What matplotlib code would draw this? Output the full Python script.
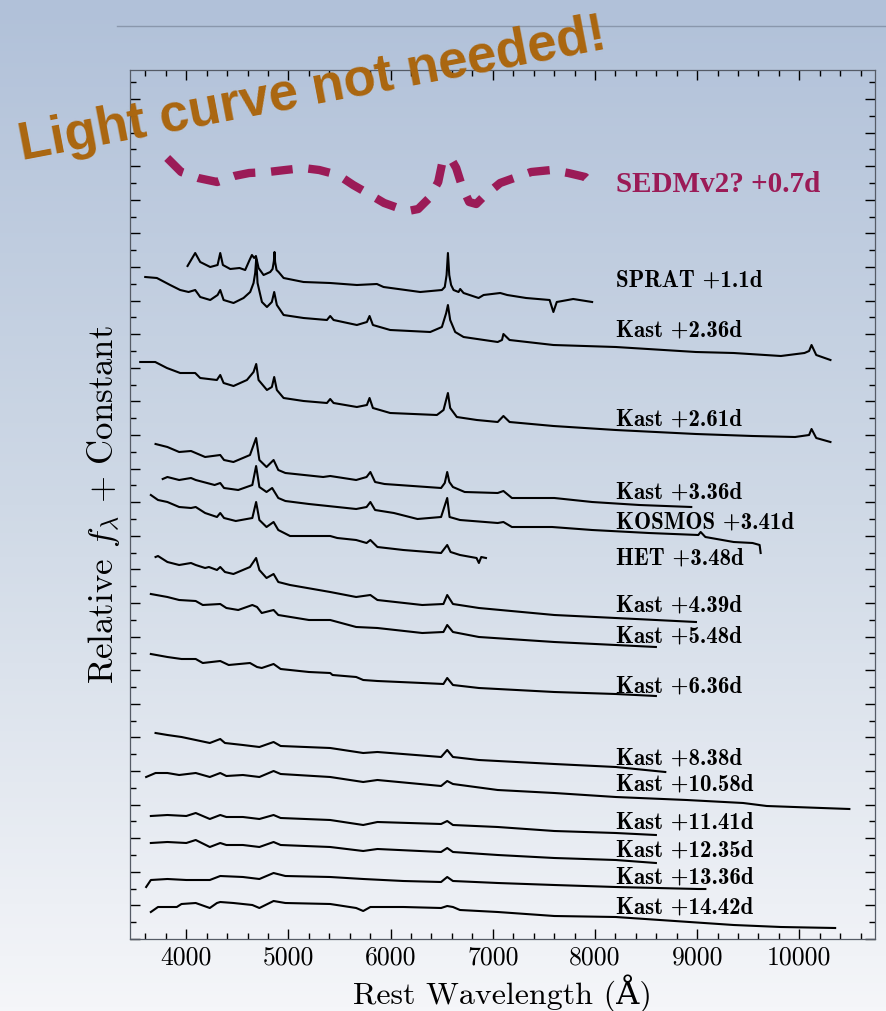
import numpy as np
import matplotlib
matplotlib.use("Agg")
import matplotlib.pyplot as plt
from matplotlib.ticker import MultipleLocator, NullFormatter
from matplotlib.colors import LinearSegmentedColormap
from matplotlib.lines import Line2D

plt.rcParams['font.family'] = ['cmr10', 'DejaVu Serif']
plt.rcParams['mathtext.fontset'] = 'cm'
plt.rcParams['axes.unicode_minus'] = False

# Spectra: rest wavelength (A) and relative flux + constant (arbitrary units)
sedm_wave = [3814, 3951, 4117, 4303, 4470, 4616, 4802, 4969, 5145, 5301, 5487, 5634,
             5771, 5937, 6074, 6172, 6270, 6378, 6466, 6505, 6544, 6603, 6642, 6701,
             6769, 6838, 6906, 7072, 7209, 7376, 7572, 7738, 7904, 7983]
sedm_flux = [781, 767, 761, 757, 763, 766, 767, 769, 771, 769, 764, 754,
             746, 736, 731, 728, 730, 741, 757, 776, 781, 778, 771, 752,
             737, 735, 742, 756, 761, 767, 769, 766, 762, 754]

sprat_wave = [4013, 4088, 4137, 4235, 4307, 4333, 4359, 4431, 4522, 4577, 4620, 4643,
              4665, 4682, 4708, 4757, 4822, 4845, 4858, 4864, 4870, 4884, 4904, 4953,
              5148, 5409, 5670, 5866, 5931, 6290, 6502, 6530, 6548, 6561, 6574, 6592,
              6616, 6665, 6681, 6714, 6861, 6910, 7073, 7141, 7326, 7556, 7593, 7626,
              7787, 7972]
sprat_flux = [673, 686, 677, 672, 674, 686, 674, 670, 671, 669, 679, 684,
              681, 683, 671, 664, 667, 670, 678, 687, 677, 669, 667, 661,
              657, 656, 654, 655, 652, 647, 649, 652, 664, 686, 664, 654,
              649, 647, 650, 646, 641, 644, 646, 644, 641, 639, 627, 637,
              640, 637]

k236_wave = [3599, 3713, 3843, 3941, 4023, 4088, 4137, 4235, 4307, 4333, 4366, 4463,
             4561, 4626, 4659, 4675, 4685, 4698, 4741, 4790, 4838, 4861, 4887, 4953,
             5148, 5377, 5409, 5442, 5670, 5768, 5794, 5827, 5996, 6388, 6502, 6544,
             6561, 6583, 6632, 6714, 7048, 7090, 7104, 7164, 7593, 8203, 8988, 9357,
             9819, 10050, 10095, 10119, 10165, 10304]
k236_flux = [662, 661, 654, 649, 647, 649, 642, 639, 644, 649, 639, 636,
             641, 647, 656, 666, 680, 656, 637, 632, 637, 647, 634, 624,
             621, 619, 623, 619, 614, 617, 623, 614, 609, 607, 612, 626,
             634, 619, 607, 602, 597, 599, 605, 599, 594, 592, 587, 586,
             583, 586, 588, 594, 584, 579]

k261_wave = [3550, 3697, 3811, 3941, 4088, 4137, 4300, 4333, 4366, 4463, 4594, 4659,
             4685, 4708, 4790, 4838, 4861, 4887, 4953, 5148, 5377, 5409, 5442, 5670,
             5768, 5794, 5827, 5996, 6453, 6518, 6561, 6583, 6648, 6844, 7048, 7104,
             7164, 7593, 8203, 8988, 9542, 9958, 10095, 10119, 10165, 10304]
k261_flux = [577, 577, 571, 566, 566, 561, 559, 564, 556, 553, 559, 567,
             575, 559, 549, 552, 562, 549, 541, 538, 536, 540, 536, 532,
             534, 541, 531, 526, 524, 529, 546, 531, 522, 519, 517, 523,
             517, 513, 509, 505, 503, 502, 504, 510, 501, 497]

k336_wave = [3700, 3816, 3931, 4047, 4093, 4185, 4333, 4370, 4462, 4624, 4684, 4716,
             4786, 4855, 4901, 4970, 5340, 5409, 5663, 5765, 5802, 5848, 5940, 6494,
             6530, 6554, 6575, 6610, 6725, 7048, 7104, 7187, 7602, 7972, 8434, 8942]
k336_flux = [495, 492, 487, 488, 486, 482, 484, 479, 477, 484, 501, 479,
             472, 479, 469, 466, 462, 463, 459, 462, 467, 457, 455, 451,
             456, 467, 457, 452, 447, 446, 448, 441, 441, 437, 434, 432]

kosmos_wave = [3770, 3816, 3931, 4047, 4093, 4278, 4333, 4370, 4509, 4647, 4684, 4716,
               4786, 4841, 4901, 4970, 5201, 5386, 5663, 5765, 5802, 5848, 6032, 6263,
               6494, 6554, 6577, 6679, 7048, 7104, 7187, 7580, 7972, 8527, 9011, 9034,
               9080, 9357, 9542, 9611, 9621]
kosmos_flux = [460, 462, 459, 461, 459, 454, 456, 451, 449, 454, 473, 452,
               447, 451, 441, 438, 435, 433, 430, 432, 437, 429, 426, 420,
               422, 441, 422, 419, 416, 417, 412, 412, 409, 406, 404, 407,
               402, 397, 396, 394, 386]

het_wave = [3654, 3724, 3816, 3931, 4047, 4093, 4185, 4301, 4333, 4370, 4485, 4647,
            4684, 4716, 4786, 4855, 4901, 5016, 5409, 5478, 5663, 5765, 5802, 5871,
            6125, 6494, 6554, 6587, 6679, 6841, 6864, 6887, 6933]
het_flux = [444, 439, 437, 432, 431, 432, 426, 422, 426, 421, 418, 421,
            437, 419, 412, 417, 409, 403, 403, 401, 399, 396, 399, 392,
            389, 386, 394, 387, 384, 381, 376, 382, 381]

k439_wave = [3700, 3724, 3816, 3931, 4047, 4093, 4185, 4222, 4301, 4333, 4379, 4462,
             4624, 4684, 4716, 4786, 4855, 4901, 5016, 5409, 5663, 5802, 5871, 6310,
             6517, 6554, 6610, 6864, 7602, 8203, 8988]
k439_flux = [382, 383, 377, 374, 376, 374, 371, 372, 369, 372, 367, 365,
             372, 381, 369, 361, 365, 357, 354, 347, 342, 344, 339, 334,
             335, 344, 335, 331, 324, 321, 317]

k548_wave = [3654, 3816, 3931, 4093, 4162, 4333, 4393, 4509, 4647, 4693, 4739, 4855,
             4901, 5201, 5409, 5663, 5871, 6310, 6517, 6554, 6610, 6864, 7602, 8203,
             8596]
k548_flux = [345, 342, 339, 338, 334, 335, 331, 329, 334, 332, 326, 329,
             324, 319, 319, 312, 311, 306, 307, 314, 307, 302, 297, 294,
             292]

k636_wave = [3654, 3816, 3954, 4093, 4162, 4333, 4416, 4624, 4693, 4739, 4855, 4924,
             5201, 5409, 5432, 5663, 5732, 5871, 6310, 6517, 6554, 6610, 6864, 7602,
             8203, 8596]
k636_flux = [285, 282, 280, 280, 276, 278, 274, 276, 272, 271, 275, 270,
             267, 266, 264, 262, 259, 258, 256, 255, 261, 254, 251, 247,
             245, 243]

k838_wave = [3700, 3816, 3954, 4093, 4231, 4333, 4379, 4555, 4716, 4855, 4924, 5409,
             5732, 5871, 6494, 6554, 6610, 6864, 7602, 8203, 8688]
k838_flux = [206, 204, 202, 199, 196, 200, 196, 194, 192, 197, 193, 191,
             186, 187, 182, 189, 182, 179, 175, 172, 167]

k1058_wave = [3608, 3700, 3816, 3931, 4093, 4231, 4333, 4393, 4555, 4716, 4855, 4924,
              5409, 5732, 5871, 6494, 6554, 6610, 7048, 7602, 8203, 8896, 9450, 9681,
              10489]
k1058_flux = [162, 166, 166, 164, 166, 162, 166, 163, 164, 162, 168, 165,
              162, 157, 159, 153, 158, 155, 149, 146, 142, 139, 136, 133,
              130]

k1141_wave = [3654, 3816, 4001, 4093, 4231, 4333, 4393, 4555, 4716, 4855, 4924, 5409,
              5732, 5871, 6494, 6554, 6610, 7048, 7602, 8203, 8596]
k1141_flux = [123, 124, 123, 126, 120, 124, 122, 122, 120, 124, 121, 119,
              114, 117, 115, 118, 114, 112, 108, 106, 104]

k1235_wave = [3654, 3816, 4001, 4093, 4231, 4333, 4393, 4555, 4716, 4855, 4924, 5409,
              5732, 5871, 6494, 6554, 6610, 7048, 7602, 8203, 8596]
k1235_flux = [96, 97, 96, 99, 92, 96, 94, 94, 92, 97, 94, 92,
              88, 90, 87, 91, 87, 84, 81, 79, 76]

k1336_wave = [3608, 3654, 3816, 4001, 4231, 4333, 4555, 4716, 4855, 4970, 5409, 5732,
              6125, 6494, 6554, 6610, 7048, 7602, 8203, 9011, 9080]
k1336_flux = [52, 59, 60, 59, 59, 63, 62, 60, 66, 63, 62, 60,
              58, 57, 62, 58, 56, 54, 52, 50, 50]

k1442_wave = [3654, 3724, 3816, 3908, 3954, 4093, 4231, 4301, 4333, 4462, 4647, 4716,
              4855, 4970, 5409, 5663, 5732, 5802, 6125, 6494, 6554, 6610, 6679, 7048,
              7602, 8203, 9357, 9819, 10350]
k1442_flux = [27, 32, 32, 32, 35, 36, 31, 36, 37, 36, 34, 31,
              38, 36, 35, 31, 28, 32, 32, 31, 33, 32, 29, 27,
              23, 22, 14, 12, 11]

spec_labels = ['SPRAT +1.1d', 'Kast +2.36d', 'Kast +2.61d', 'Kast +3.36d', 'KOSMOS +3.41d',
               'HET +3.48d', 'Kast +4.39d', 'Kast +5.48d', 'Kast +6.36d', 'Kast +8.38d',
               'Kast +10.58d', 'Kast +11.41d', 'Kast +12.35d', 'Kast +13.36d', 'Kast +14.42d']
label_flux = [659, 609, 520, 447, 417, 381, 334, 303, 253, 181, 155, 117, 89, 62, 32]
label_wave = 8205

waves = [sprat_wave, k236_wave, k261_wave, k336_wave, kosmos_wave, het_wave, k439_wave,
         k548_wave, k636_wave, k838_wave, k1058_wave, k1141_wave, k1235_wave, k1336_wave,
         k1442_wave]
fluxes = [sprat_flux, k236_flux, k261_flux, k336_flux, kosmos_flux, het_flux, k439_flux,
          k548_flux, k636_flux, k838_flux, k1058_flux, k1141_flux, k1235_flux, k1336_flux,
          k1442_flux]

W, H = 886, 1011
fig = plt.figure(figsize=(W / 100, H / 100), dpi=100)

# slide background gradient
bg = fig.add_axes([0, 0, 1, 1], zorder=-1)
bg_cmap = LinearSegmentedColormap.from_list('bg', ['#B1C1D9', '#CFD9E6', '#F5F6F9'])
bg.imshow(np.linspace(0, 1, 256).reshape(-1, 1), aspect='auto', cmap=bg_cmap,
          extent=[0, 1, 0, 1], origin='upper')
bg.axis('off')
fig.add_artist(Line2D([117 / W, 1], [1 - 26 / H, 1 - 26 / H], transform=fig.transFigure,
                      color='#8A97AC', lw=1))

ax = fig.add_axes([130 / W, 1 - 939 / H, (875 - 130) / W, (939 - 70) / H])
ax.set_facecolor('none')

for w, f in zip(waves, fluxes):
    ax.plot(w, f, color='black', lw=1.5, solid_joinstyle='round')

for lab, fy in zip(spec_labels, label_flux):
    ax.text(label_wave, fy, lab, fontsize=16.5, family=['cmb10', 'DejaVu Serif'],
            va='center', ha='left')

# the hoped-for SEDMv2 spectrum
sedm_color = '#9B1B57'
ax.plot(sedm_wave, sedm_flux, color=sedm_color, lw=6, linestyle=(0, (2.6, 1.9)),
        dash_capstyle='butt')
ax.text(label_wave, 755, 'SEDMv2? +0.7d', fontsize=21, color=sedm_color,
        family='Liberation Serif', weight='bold', va='center', ha='left')

ax.set_xlim(3450, 10740)
ax.set_ylim(0, 869)
ax.xaxis.set_major_locator(MultipleLocator(1000))
ax.xaxis.set_minor_locator(MultipleLocator(200))
ax.yaxis.set_major_locator(MultipleLocator(33.6))
ax.yaxis.set_minor_locator(MultipleLocator(16.8))
ax.yaxis.set_major_formatter(NullFormatter())
ax.tick_params(which='both', direction='in', top=True, right=True, colors='black')
ax.tick_params(which='major', length=7, width=1, labelsize=18.5)
ax.tick_params(which='minor', length=4.5, width=1)
ax.tick_params(axis='x', which='major', pad=5)
for s in ax.spines.values():
    s.set_color('#555b66')
    s.set_linewidth(0.9)

ax.set_xlabel('Rest Wavelength (Å)', fontsize=23, labelpad=3)
ax.set_ylabel(r'Relative $f_\lambda$ + Constant', fontsize=25)
ax.yaxis.set_label_coords(-0.011, 0.5)

fig.text(22 / W, 1 - 160 / H, 'Light curve not needed!', fontsize=38,
         family='Liberation Sans', weight='bold', color='#AA660F',
         rotation=10.8, rotation_mode='anchor', ha='left', va='baseline', zorder=10)

fig.savefig('out.png', dpi=100)
